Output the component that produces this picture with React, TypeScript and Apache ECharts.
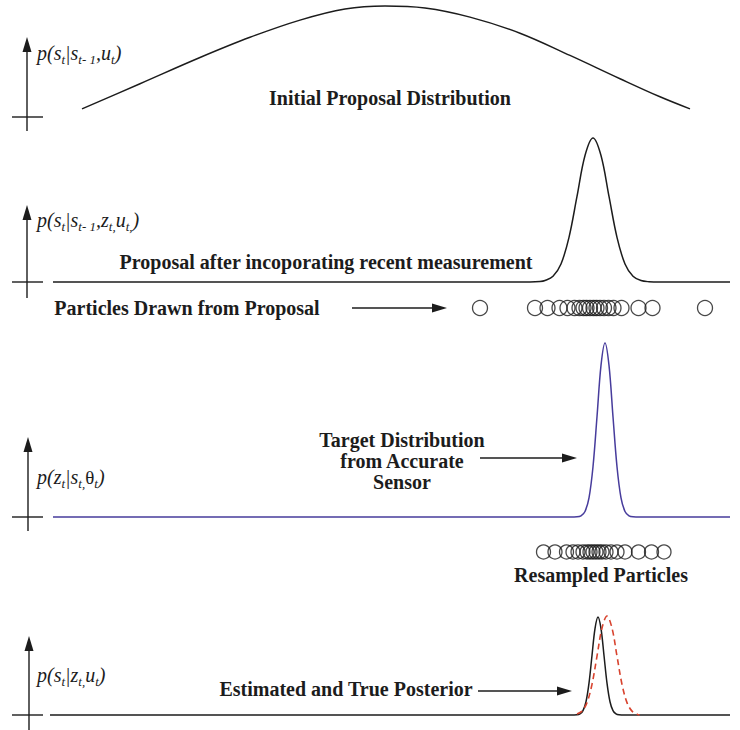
import React, { useEffect, useRef } from "react";
import * as echarts from "echarts";

// Shared state axis (0..140) across all panels; densities normalised so the tallest peak is 1.
const initialProposal: [number, number][] = [
  [8.4, 0.073], [20, 0.3], [32, 0.536], [42, 0.718], [52, 0.873], [61, 0.973],
  [69, 1], [77, 0.982], [86, 0.9], [96, 0.755], [106, 0.555], [116, 0.345],
  [124, 0.182], [130, 0.073],
];

const proposalWithMeasurement: [number, number][] = [
  [2.6, 0], [98, 0], [100, 0.003], [101, 0.01], [102.6, 0.04], [104.2, 0.125],
  [105.8, 0.31], [107.4, 0.594], [109, 0.878], [110.6, 1], [112.2, 0.878],
  [113.8, 0.594], [115.4, 0.31], [117, 0.125], [118.6, 0.04], [120.2, 0.01],
  [121.8, 0.002], [124, 0], [138, 0],
];

const targetDistribution: [number, number][] = [
  [2.6, 0], [106, 0], [107.4, 0.001], [108.2, 0.007], [109, 0.032], [109.8, 0.11],
  [110.6, 0.289], [111.4, 0.576], [112.2, 0.871], [113, 1], [113.8, 0.871],
  [114.6, 0.576], [115.4, 0.289], [116.2, 0.11], [117, 0.032], [117.8, 0.007],
  [118.6, 0.001], [120, 0], [138, 0],
];

const estimatedPosterior: [number, number][] = [
  [2, 0], [106, 0], [107.4, 0.002], [108, 0.011], [108.6, 0.044], [109.2, 0.134],
  [109.8, 0.322], [110.4, 0.601], [111, 0.873], [111.6, 0.99], [112.2, 0.873],
  [112.8, 0.601], [113.4, 0.322], [114, 0.134], [114.6, 0.044], [115.2, 0.011],
  [115.8, 0.002], [117, 0], [138, 0],
];

const truePosterior: [number, number][] = [
  [107.4, 0.009], [108.4, 0.039], [109.4, 0.125], [110.4, 0.31], [111.4, 0.594],
  [112.4, 0.878], [113.4, 1], [114.4, 0.878], [115.4, 0.594], [116.4, 0.31],
  [117.4, 0.125], [118.4, 0.039], [119.4, 0.009], [119.9, 0],
];

const drawnParticles: number[] = [
  88, 99, 101.5, 103.9, 105.5, 106.9, 107.9, 108.7, 109.3, 110, 110.7, 111.3,
  112, 112.8, 113.7, 114.7, 116.3, 119.7, 122.5, 133,
];

const resampledParticles: number[] = [
  100.7, 103, 105.3, 106.6, 107.6, 108.6, 109.4, 110, 110.6, 111.2, 111.8,
  112.4, 113.2, 114.2, 115.4, 117, 119.7, 122.3, 124.8,
];

const axisLabels: string[] = [
  "{m|p(s}{s|t}{m||s}{s|t- 1}{m|,u}{s|t}{m|)}",
  "{m|p(s}{s|t}{m||s}{s|t- 1}{m|,z}{s|t,}{m|u}{s|t,}{m|)}",
  "{m|p(z}{s|t}{m||s}{s|t,}{g|θ}{s|t}{m|)}",
  "{m|p(s}{s|t}{m||z}{s|t,}{m|u}{s|t}{m|)}",
];

const captions = {
  initial: "Initial Proposal Distribution",
  proposal: "Proposal after incoporating recent measurement",
  drawn: "Particles Drawn from Proposal",
  target: "Target Distribution\nfrom Accurate\nSensor",
  resampled: "Resampled Particles",
  posterior: "Estimated and True Posterior",
};

const INK = "#1c1c1c";
const BLUE = "#473c9c";
const RED = "#d8432e";
const SERIF = '"Liberation Serif", "Times New Roman", "DejaVu Serif", serif';

// Layout of the hand-drawn density axes (pixel positions).
const axisFrames = [
  { x: 27, tip: 37, base: 117, bottom: 131, labelY: 53 },
  { x: 27, tip: 205, base: 282, bottom: 298, labelY: 220 },
  { x: 28, tip: 437, base: 517, bottom: 531, labelY: 477 },
  { x: 29, tip: 636, base: 715, bottom: 730, labelY: 675 },
];

function arrowGraphics(x1: number, x2: number, y: number) {
  return [
    { type: "line", shape: { x1, y1: y, x2: x2 - 12, y2: y }, style: { stroke: INK, lineWidth: 1.4 } },
    {
      type: "polygon",
      shape: { points: [[x2, y], [x2 - 15, y - 4.5], [x2 - 15, y + 4.5]] },
      style: { fill: INK },
    },
  ];
}

function textGraphic(text: string, x: number, y: number, size = 20) {
  return {
    type: "text",
    x,
    y,
    style: {
      text,
      fontFamily: SERIF,
      fontWeight: "bold",
      fontSize: size,
      lineHeight: 21,
      fill: INK,
      align: "center",
      verticalAlign: "middle",
      textAlign: "center",
      textVerticalAlign: "middle",
    },
  };
}

export default function App() {
  const ref = useRef<HTMLDivElement>(null);

  useEffect(() => {
    if (!ref.current) return;
    const chart = echarts.init(ref.current, undefined, { renderer: "svg" });

    const grids = [
      { left: 40, right: 0, top: 6, height: 111 },
      { left: 40, right: 0, top: 138, height: 144 },
      { left: 40, right: 0, top: 343, height: 174 },
      { left: 40, right: 0, top: 616, height: 99 },
      { left: 40, right: 0, top: 298, height: 20 },
      { left: 40, right: 0, top: 542, height: 20 },
    ];

    const xAxes = grids.map((_, i) => ({
      type: "value",
      gridIndex: i,
      min: 0,
      max: 140,
      show: false,
    }));
    const yAxes = grids.map((_, i) => ({
      type: "value",
      gridIndex: i,
      min: i >= 4 ? -1 : 0,
      max: 1,
      show: false,
    }));

    const lineSeries = (data: [number, number][], idx: number, color: string, extra: any = {}) => ({
      type: "line",
      xAxisIndex: idx,
      yAxisIndex: idx,
      data,
      smooth: 0.35,
      symbol: "none",
      clip: false,
      lineStyle: { color, width: 1.5, ...extra },
      z: 3,
    });

    const particleSeries = (xs: number[], idx: number, size: number) => ({
      type: "scatter",
      xAxisIndex: idx,
      yAxisIndex: idx,
      data: xs.map((x) => [x, 0]),
      symbol: "circle",
      symbolSize: size,
      itemStyle: { color: "rgba(0,0,0,0)", borderColor: INK, borderWidth: 1.3 },
    });

    const graphic: any[] = [];
    axisFrames.forEach((f, i) => {
      graphic.push(
        { type: "line", shape: { x1: f.x, y1: f.tip + 10, x2: f.x, y2: f.bottom }, style: { stroke: INK, lineWidth: 1.4 } },
        { type: "polygon", shape: { points: [[f.x, f.tip], [f.x - 4.5, f.tip + 15], [f.x + 4.5, f.tip + 15]] }, style: { fill: INK } },
        { type: "line", shape: { x1: 12, y1: f.base, x2: 43, y2: f.base }, style: { stroke: INK, lineWidth: 1.4 } },
        {
          type: "text",
          x: 37,
          y: f.labelY,
          style: {
            text: axisLabels[i],
            fill: INK,
            align: "left",
            verticalAlign: "middle",
            textAlign: "left",
            textVerticalAlign: "middle",
            rich: {
              m: { fontFamily: SERIF, fontStyle: "italic", fontSize: 20, fill: INK },
              g: { fontFamily: SERIF, fontSize: 19, fill: INK },
              s: { fontFamily: SERIF, fontStyle: "italic", fontSize: 13, fill: INK, padding: [12, 0, 0, 0] },
            },
          },
        }
      );
    });

    graphic.push(
      textGraphic(captions.initial, 390, 98),
      textGraphic(captions.proposal, 326, 262),
      textGraphic(captions.drawn, 187, 308),
      ...arrowGraphics(352, 447, 308),
      textGraphic(captions.target, 402, 461),
      ...arrowGraphics(480, 577, 458),
      textGraphic(captions.resampled, 601, 575),
      textGraphic(captions.posterior, 346, 689),
      ...arrowGraphics(478, 572, 691)
    );

    chart.setOption({
      animation: false,
      backgroundColor: "#ffffff",
      grid: grids,
      xAxis: xAxes,
      yAxis: yAxes,
      series: [
        lineSeries(initialProposal, 0, INK),
        lineSeries(proposalWithMeasurement, 1, INK),
        lineSeries(targetDistribution, 2, BLUE),
        lineSeries(estimatedPosterior, 3, INK),
        lineSeries(truePosterior, 3, RED, { type: [6, 4], width: 1.6 }),
        particleSeries(drawnParticles, 4, 15),
        particleSeries(resampledParticles, 5, 14),
      ],
      graphic,
    });

    return () => chart.dispose();
  }, []);

  return (
    <div
      ref={ref}
      style={{ position: "absolute", left: 0, top: 0, width: 740, height: 730 }}
    />
  );
}
